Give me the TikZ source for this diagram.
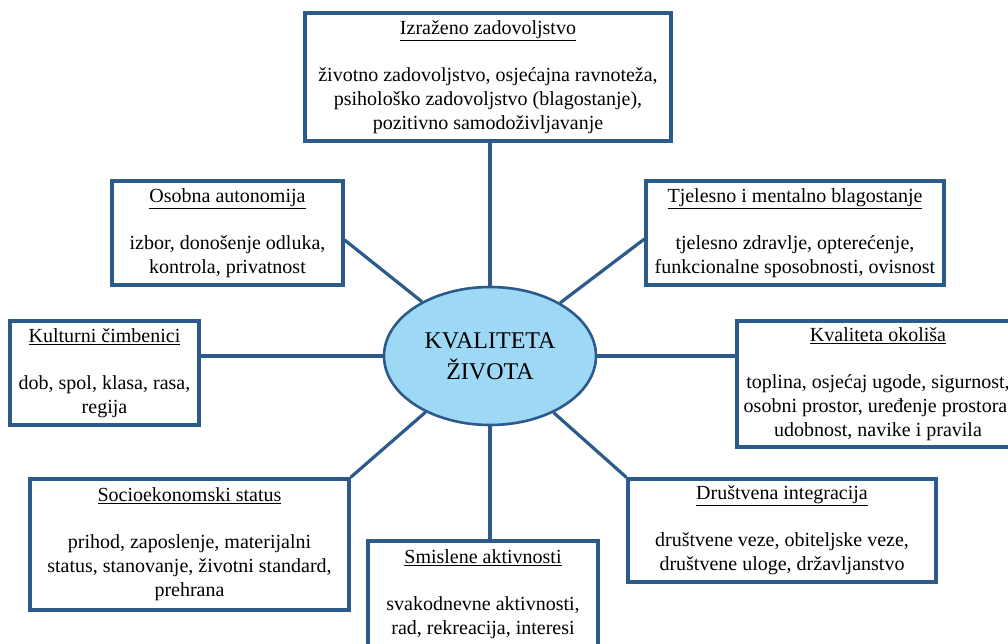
\documentclass[tikz,border=0pt]{standalone}
\usepackage{fontspec}
\setmainfont{Liberation Serif}
\usetikzlibrary{shapes.geometric}
\definecolor{bord}{RGB}{44,90,138}
\definecolor{ellfill}{RGB}{157,216,245}
\newcommand\boxtitle[1]{\underline{#1}\\[23pt]}
\begin{document}
\begin{tikzpicture}[x=1pt,y=-1pt,
  box/.style={draw=bord,line width=3.2pt,fill=white,align=center,inner sep=0pt,
    font=\fontsize{20}{24}\selectfont},
  conn/.style={draw=bord,line width=3.2pt}]
\useasboundingbox (0,0) rectangle (1008,644);
\clip (0,0) rectangle (1008,644);
\fill[white] (0,0) rectangle (1008,644);

\node[ellipse,draw=bord,line width=2.6pt,fill=ellfill,minimum width=212pt,minimum height=138pt,
  inner sep=0pt,align=center,font=\fontsize{24}{31}\selectfont] (ell) at (490,356) {KVALITETA\\ŽIVOTA};

\node[box,minimum width=366pt,minimum height=128pt] (A) at (488,77)
  {\boxtitle{Izraženo zadovoljstvo}životno zadovoljstvo, osjećajna ravnoteža,\\psihološko zadovoljstvo (blagostanje),\\pozitivno samodoživljavanje};
\node[box,minimum width=231pt,minimum height=104pt] (B) at (227.5,233)
  {\boxtitle{Osobna autonomija}izbor, donošenje odluka,\\kontrola, privatnost};
\node[box,minimum width=298pt,minimum height=104pt] (C) at (795,233)
  {\boxtitle{Tjelesno i mentalno blagostanje}tjelesno zdravlje, opterećenje,\\funkcionalne sposobnosti, ovisnost};
\node[box,minimum width=189pt,minimum height=104pt] (D) at (104.5,373)
  {\boxtitle{Kulturni čimbenici}dob, spol, klasa, rasa,\\regija};
\node[box,minimum width=282pt,minimum height=126pt] (E) at (878,384)
  {\boxtitle{Kvaliteta okoliša}toplina, osjećaj ugode, sigurnost,\\osobni prostor, uređenje prostora,\\udobnost, navike i pravila};
\node[box,minimum width=319pt,minimum height=131pt] (F) at (189.5,544.5)
  {\boxtitle{Socioekonomski status}prihod, zaposlenje, materijalni\\status, stanovanje, životni standard,\\prehrana};
\node[box,minimum width=230pt,minimum height=106pt] (G) at (483,594)
  {\boxtitle{Smislene aktivnosti}svakodnevne aktivnosti,\\rad, rekreacija, interesi};
\node[box,minimum width=308pt,minimum height=103pt] (H) at (782,530.5)
  {\boxtitle{Društvena integracija}društvene veze, obiteljske veze,\\društvene uloge, državljanstvo};

\draw[conn] (ell.north) -- (ell.north |- A.south);
\draw[conn] (ell.south) -- (ell.south |- G.north);
\draw[conn] (ell.west) -- (ell.west -| D.east);
\draw[conn] (ell.east) -- (ell.east -| E.west);
\draw[conn] ([yshift=-7pt]B.east) -- (ell);
\draw[conn] ([yshift=-6pt]C.west) -- (ell);
\draw[conn] (F.north east) -- (ell);
\draw[conn] (H.north west) -- (ell);
\end{tikzpicture}
\end{document}
